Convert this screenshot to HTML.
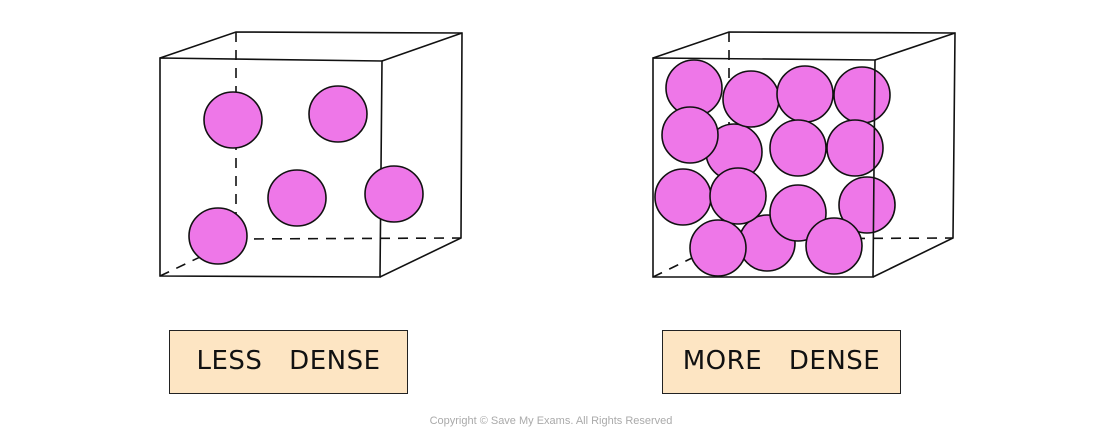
<!DOCTYPE html>
<html><head><style>
html,body{margin:0;padding:0;background:#fff;}
.lbl{position:absolute;background:#fde5c3;border:1.6px solid #222;box-sizing:border-box;font-family:"DejaVu Sans","Liberation Sans",sans-serif;font-size:26px;color:#111;text-align:center;line-height:60px;word-spacing:18px;letter-spacing:0.5px;}
</style></head><body>
<div style="position:relative;width:1100px;height:440px;overflow:hidden;">
<svg width="1100" height="440" style="position:absolute;left:0;top:0">
<g stroke="#111" stroke-width="1.6" fill="none">
<line x1="236" y1="32" x2="236" y2="240" stroke-dasharray="10,8"/>
<line x1="236" y1="239" x2="461" y2="238" stroke-dasharray="10,8"/>
<line x1="160" y1="276" x2="236" y2="240" stroke-dasharray="10,8"/>
<polygon points="160,58 382,61 380,277 160,276"/>
<polyline points="160,58 236,32 462,33 461,238 380,277"/>
<line x1="382" y1="61" x2="462" y2="33"/>
<line x1="729" y1="32" x2="729" y2="240" stroke-dasharray="10,8"/>
<line x1="729" y1="239" x2="953" y2="238" stroke-dasharray="10,8"/>
<line x1="653" y1="277" x2="729" y2="240" stroke-dasharray="10,8"/>
</g>
<g fill="#ee77e8" stroke="#111" stroke-width="1.6">
<ellipse cx="233" cy="120" rx="29" ry="28"/>
<ellipse cx="338" cy="114" rx="29" ry="28"/>
<ellipse cx="297" cy="198" rx="29" ry="28"/>
<ellipse cx="394" cy="194" rx="29" ry="28"/>
<ellipse cx="218" cy="236" rx="29" ry="28"/>
</g>
<g fill="#ee77e8" stroke="#111" stroke-width="1.6">
<ellipse cx="767" cy="243" rx="28" ry="28"/>
<ellipse cx="734" cy="152" rx="28" ry="28"/>
<ellipse cx="694" cy="88" rx="28" ry="28"/>
<ellipse cx="751" cy="99" rx="28" ry="28"/>
<ellipse cx="805" cy="94" rx="28" ry="28"/>
<ellipse cx="862" cy="95" rx="28" ry="28"/>
<ellipse cx="690" cy="135" rx="28" ry="28"/>
<ellipse cx="798" cy="148" rx="28" ry="28"/>
<ellipse cx="855" cy="148" rx="28" ry="28"/>
<ellipse cx="867" cy="205" rx="28" ry="28"/>
<ellipse cx="683" cy="197" rx="28" ry="28"/>
<ellipse cx="738" cy="196" rx="28" ry="28"/>
<ellipse cx="798" cy="213" rx="28" ry="28"/>
<ellipse cx="718" cy="248" rx="28" ry="28"/>
<ellipse cx="834" cy="246" rx="28" ry="28"/>
</g>
<g stroke="#111" stroke-width="1.6" fill="none">
<polygon points="653,58 875,60 873,277 653,277"/>
<polyline points="653,58 729,32 955,33 953,238 873,277"/>
<line x1="875" y1="60" x2="955" y2="33"/>
</g>
<text x="551" y="424" font-family="Liberation Sans,sans-serif" font-size="11" fill="#aaa" text-anchor="middle">Copyright © Save My Exams. All Rights Reserved</text>
</svg>
<div class="lbl" style="left:169px;top:330px;width:239px;height:64px;">LESS DENSE</div>
<div class="lbl" style="left:662px;top:330px;width:239px;height:64px;">MORE DENSE</div>
</div>
</body></html>
